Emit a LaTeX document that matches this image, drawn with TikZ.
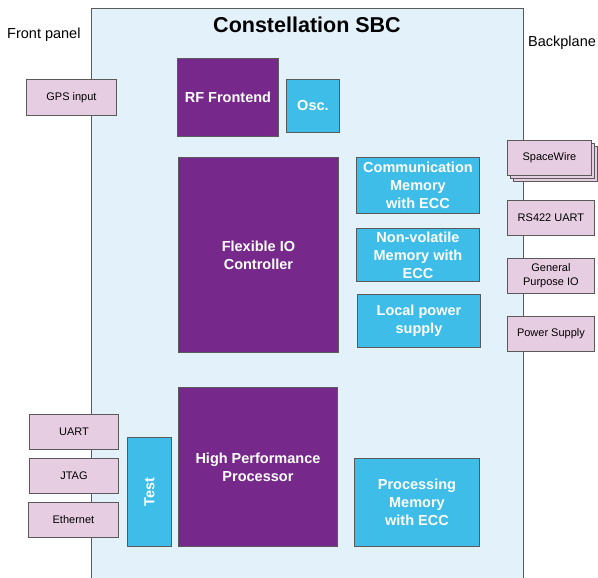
\documentclass[tikz,border=0pt]{standalone}
\usepackage{fontspec}
\setmainfont{Liberation Sans}
\definecolor{bgblue}{HTML}{E3F2FA}
\definecolor{purp}{HTML}{76298A}
\definecolor{cyanb}{HTML}{3DBDE8}
\definecolor{pinkb}{HTML}{E7CDE2}
\definecolor{edgegray}{HTML}{5A5A5A}
\begin{document}
\begin{tikzpicture}[x=1pt,y=-1pt,
  blk/.style={draw=edgegray, line width=0.9pt, inner sep=0pt, anchor=north west, align=center},
  purplebox/.style={blk, fill=purp, text=white, font=\fontsize{14.5}{18}\selectfont\bfseries},
  cyanbox/.style={blk, fill=cyanb, text=white, font=\fontsize{14.5}{18}\selectfont\bfseries},
  pinkbox/.style={blk, fill=pinkb, text=black, font=\fontsize{11}{14}\selectfont},
  sidelabel/.style={anchor=base west, inner sep=0pt, font=\fontsize{14.5}{17}\selectfont}]
\useasboundingbox (0,0) rectangle (598,578);
% board
\fill[bgblue] (91,9) rectangle (523,578);
\draw[edgegray, line width=1pt] (91,578) -- (91,9) -- (523,9) -- (523,578);
\node[anchor=base, inner sep=0pt, font=\fontsize{21.5}{25}\selectfont\bfseries] (title) at (307,33) {Constellation SBC};
\node[sidelabel] (front) at (7,39) {Front panel};
\node[sidelabel] (back) at (528,47) {Backplane};
% purple blocks
\node[purplebox, minimum width=101pt, minimum height=78pt] (rf) at (177,58) {RF Frontend};
\node[purplebox, minimum width=160pt, minimum height=195pt] (fio) at (178,157) {Flexible IO\\Controller};
\node[purplebox, minimum width=159pt, minimum height=159pt] (hpp) at (178,387) {High Performance\\Processor};
% cyan blocks
\node[cyanbox, minimum width=53pt, minimum height=53pt] (osc) at (286,79) {Osc.};
\node[cyanbox, minimum width=123pt, minimum height=56pt] (cmem) at (356,157) {Communication\\Memory\\with ECC};
\node[cyanbox, minimum width=123pt, minimum height=53pt] (nvmem) at (356,228) {Non-volatile\\Memory with\\ECC};
\node[cyanbox, minimum width=123pt, minimum height=53pt] (lps) at (357,294) {Local power\\supply};
\node[cyanbox, minimum width=125pt, minimum height=88pt] (pmem) at (354,458) {Processing\\Memory\\with ECC};
\node[cyanbox, minimum width=44pt, minimum height=109pt] (test) at (127,437) {};
\node[rotate=90, text=white, inner sep=0pt, font=\fontsize{14.5}{18}\selectfont\bfseries] (testlbl) at (test.center) {Test};
% pink connectors
\node[pinkbox, minimum width=90pt, minimum height=36pt] (gps) at (26,79) {GPS input};
\node[pinkbox, minimum width=89pt, minimum height=35pt] (uart) at (29,414) {UART};
\node[pinkbox, minimum width=89pt, minimum height=35pt] (jtag) at (29,458) {JTAG};
\node[pinkbox, minimum width=90pt, minimum height=35pt] (eth) at (28,502) {Ethernet};
\node[pinkbox, minimum width=84pt, minimum height=35pt] (sw3) at (513,146) {};
\node[pinkbox, minimum width=84pt, minimum height=35pt] (sw2) at (510,143) {};
\node[pinkbox, minimum width=84pt, minimum height=35pt] (sw) at (507,140) {SpaceWire};
\node[pinkbox, minimum width=87pt, minimum height=35pt] (rs) at (507,200) {RS422 UART};
\node[pinkbox, minimum width=87pt, minimum height=35pt] (gpio) at (507,258) {General\\Purpose IO};
\node[pinkbox, minimum width=87pt, minimum height=35pt] (ps) at (507,316) {Power Supply};
\end{tikzpicture}
\end{document}
